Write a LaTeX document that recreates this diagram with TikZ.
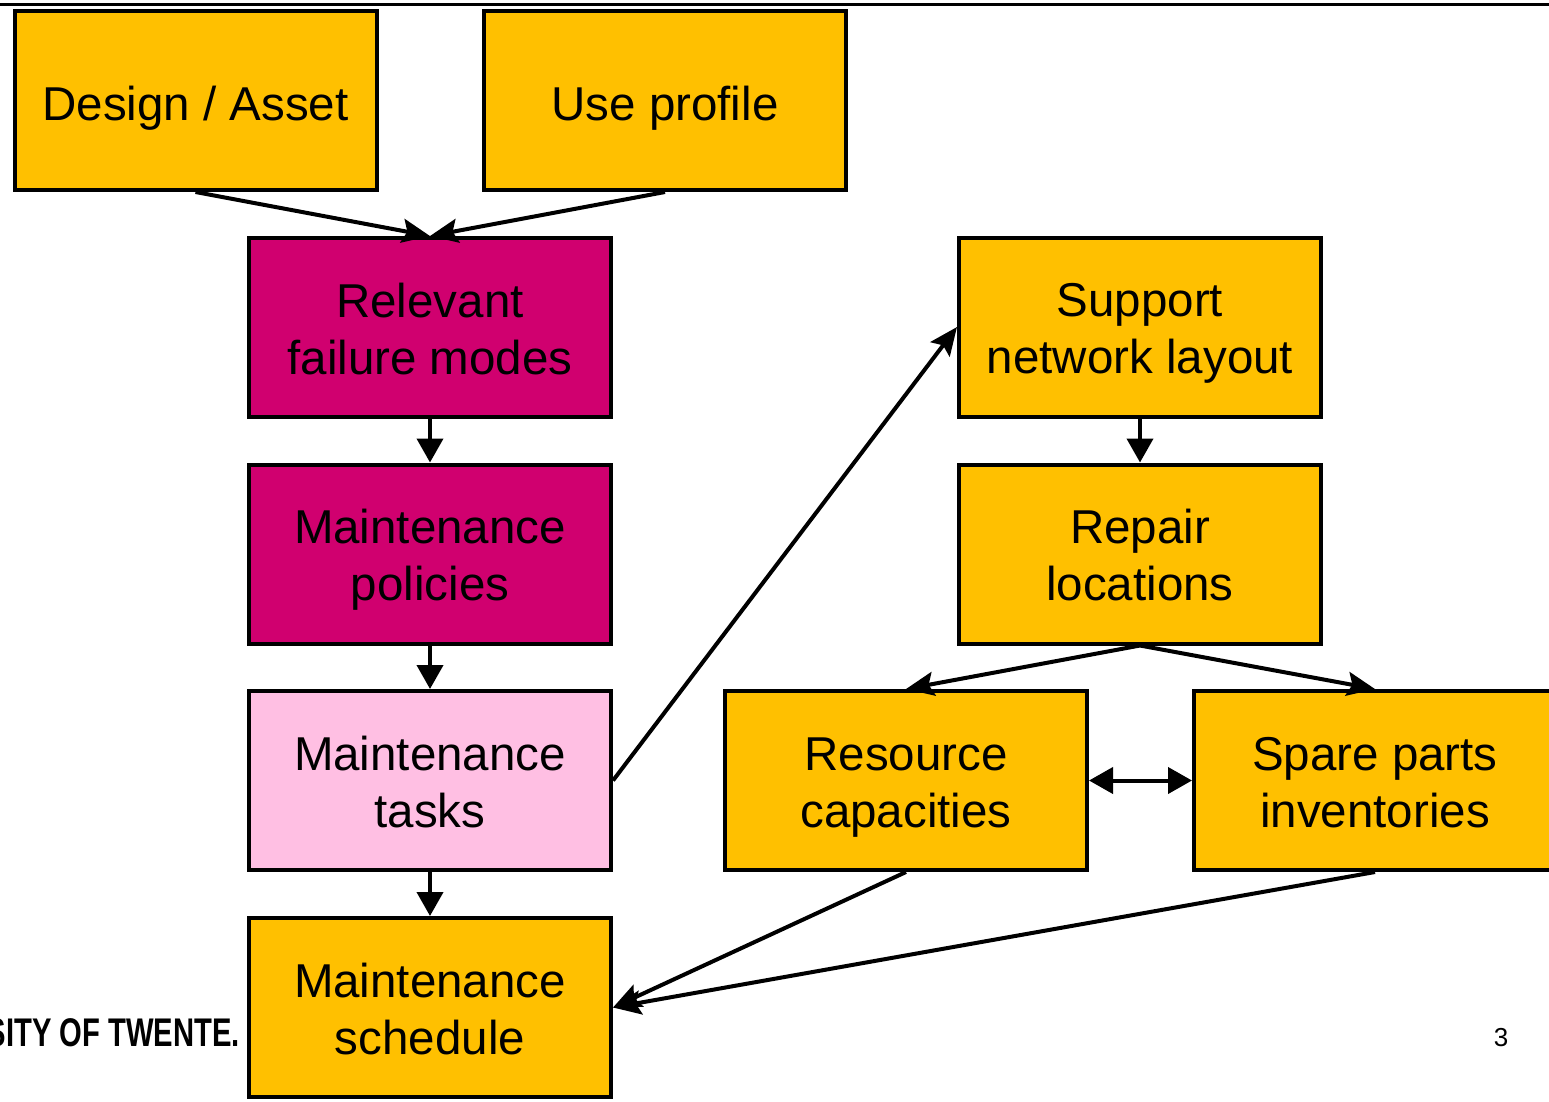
\documentclass[tikz,border=0pt]{standalone}
\usepackage{fontspec}
\setmainfont{Liberation Sans}
\usetikzlibrary{arrows.meta}
\definecolor{boxyellow}{HTML}{FFC000}
\definecolor{boxmagenta}{HTML}{D0006F}
\definecolor{boxpink}{HTML}{FFBFE3}
% fixed line struts so every box centres its lines the same way
\newcommand{\hiline}{\rule{0pt}{46pt}}
\newcommand{\loline}{\rule[-10pt]{0pt}{10pt}}
\newcommand{\oneline}{\rule[-8pt]{0pt}{57pt}}
\tikzset{
  block/.style={draw=black, line width=4pt, minimum width=362pt, minimum height=179pt,
    inner sep=0pt, align=center, font=\fontsize{47.5}{57}\selectfont},
  yellowbox/.style={block, fill=boxyellow},
  magentabox/.style={block, fill=boxmagenta},
  pinkbox/.style={block, fill=boxpink},
  flow/.style={line width=4pt, -{Triangle[length=24pt,width=26pt]}},
  slant/.style={line width=4pt, -{Stealth[length=28pt,width=24pt,inset=5pt]}},
  both/.style={line width=4pt, {Triangle[length=24pt,width=26pt]}-{Triangle[length=24pt,width=26pt]}}
}
\begin{document}
\begin{tikzpicture}[x=1pt,y=-1pt]
  \useasboundingbox (0,0) rectangle (1549,1101);
  \clip (0,0) rectangle (1549,1101);
  \fill[white] (0,0) rectangle (1549,1101);

  % slide header rule
  \draw[line width=3pt] (0,4.5) -- (1549,4.5);

  % left column
  \node[yellowbox]  (design)   at (195.5,100.5) {\oneline Design / Asset};
  \node[yellowbox]  (use)      at (665,100.5)   {\oneline Use profile};
  \node[magentabox] (relevant) at (430,327.5)   {\hiline Relevant\\failure modes\loline};
  \node[magentabox] (policies) at (430,554)     {\hiline Maintenance\\policies\loline};
  \node[pinkbox]    (tasks)    at (430,780.5)   {\hiline Maintenance\\tasks\loline};
  \node[yellowbox]  (schedule) at (430,1007.5)  {\hiline Maintenance\\schedule\loline};

  % right column
  \node[yellowbox]  (support)  at (1140,327)    {\hiline Support\\network layout\loline};
  \node[yellowbox]  (repair)   at (1140,554)    {\hiline Repair\\locations\loline};
  \node[yellowbox]  (resource) at (906,780.5)   {\hiline Resource\\capacities\loline};
  \node[yellowbox]  (spare)    at (1375,780.5)  {\hiline Spare parts\\inventories\loline};

  % connectors
  \draw[slant] (design.south) -- (relevant.north);
  \draw[slant] (use.south) -- (relevant.north);
  \draw[flow] (relevant.south) -- (policies.north);
  \draw[flow] (policies.south) -- (tasks.north);
  \draw[flow] (tasks.south) -- (schedule.north);
  \draw[slant] (tasks.east) -- (support.west);
  \draw[flow] (support.south) -- (repair.north);
  \draw[slant] (repair.south) -- (resource.north);
  \draw[slant] (repair.south) -- (spare.north);
  \draw[both] (resource.east) -- (spare.west);
  \draw[slant] (resource.south) -- (schedule.east);
  \draw[slant] (spare.south) -- (schedule.east);

  % footer
  \node[anchor=base east, inner sep=0pt, xscale=0.73,
        font=\fontsize{40}{40}\selectfont\bfseries] (footer) at (240,1046) {SITY OF TWENTE.};
  \node[anchor=base, inner sep=0pt, font=\fontsize{26}{26}\selectfont] (pagenum) at (1501,1046) {3};
\end{tikzpicture}
\end{document}
